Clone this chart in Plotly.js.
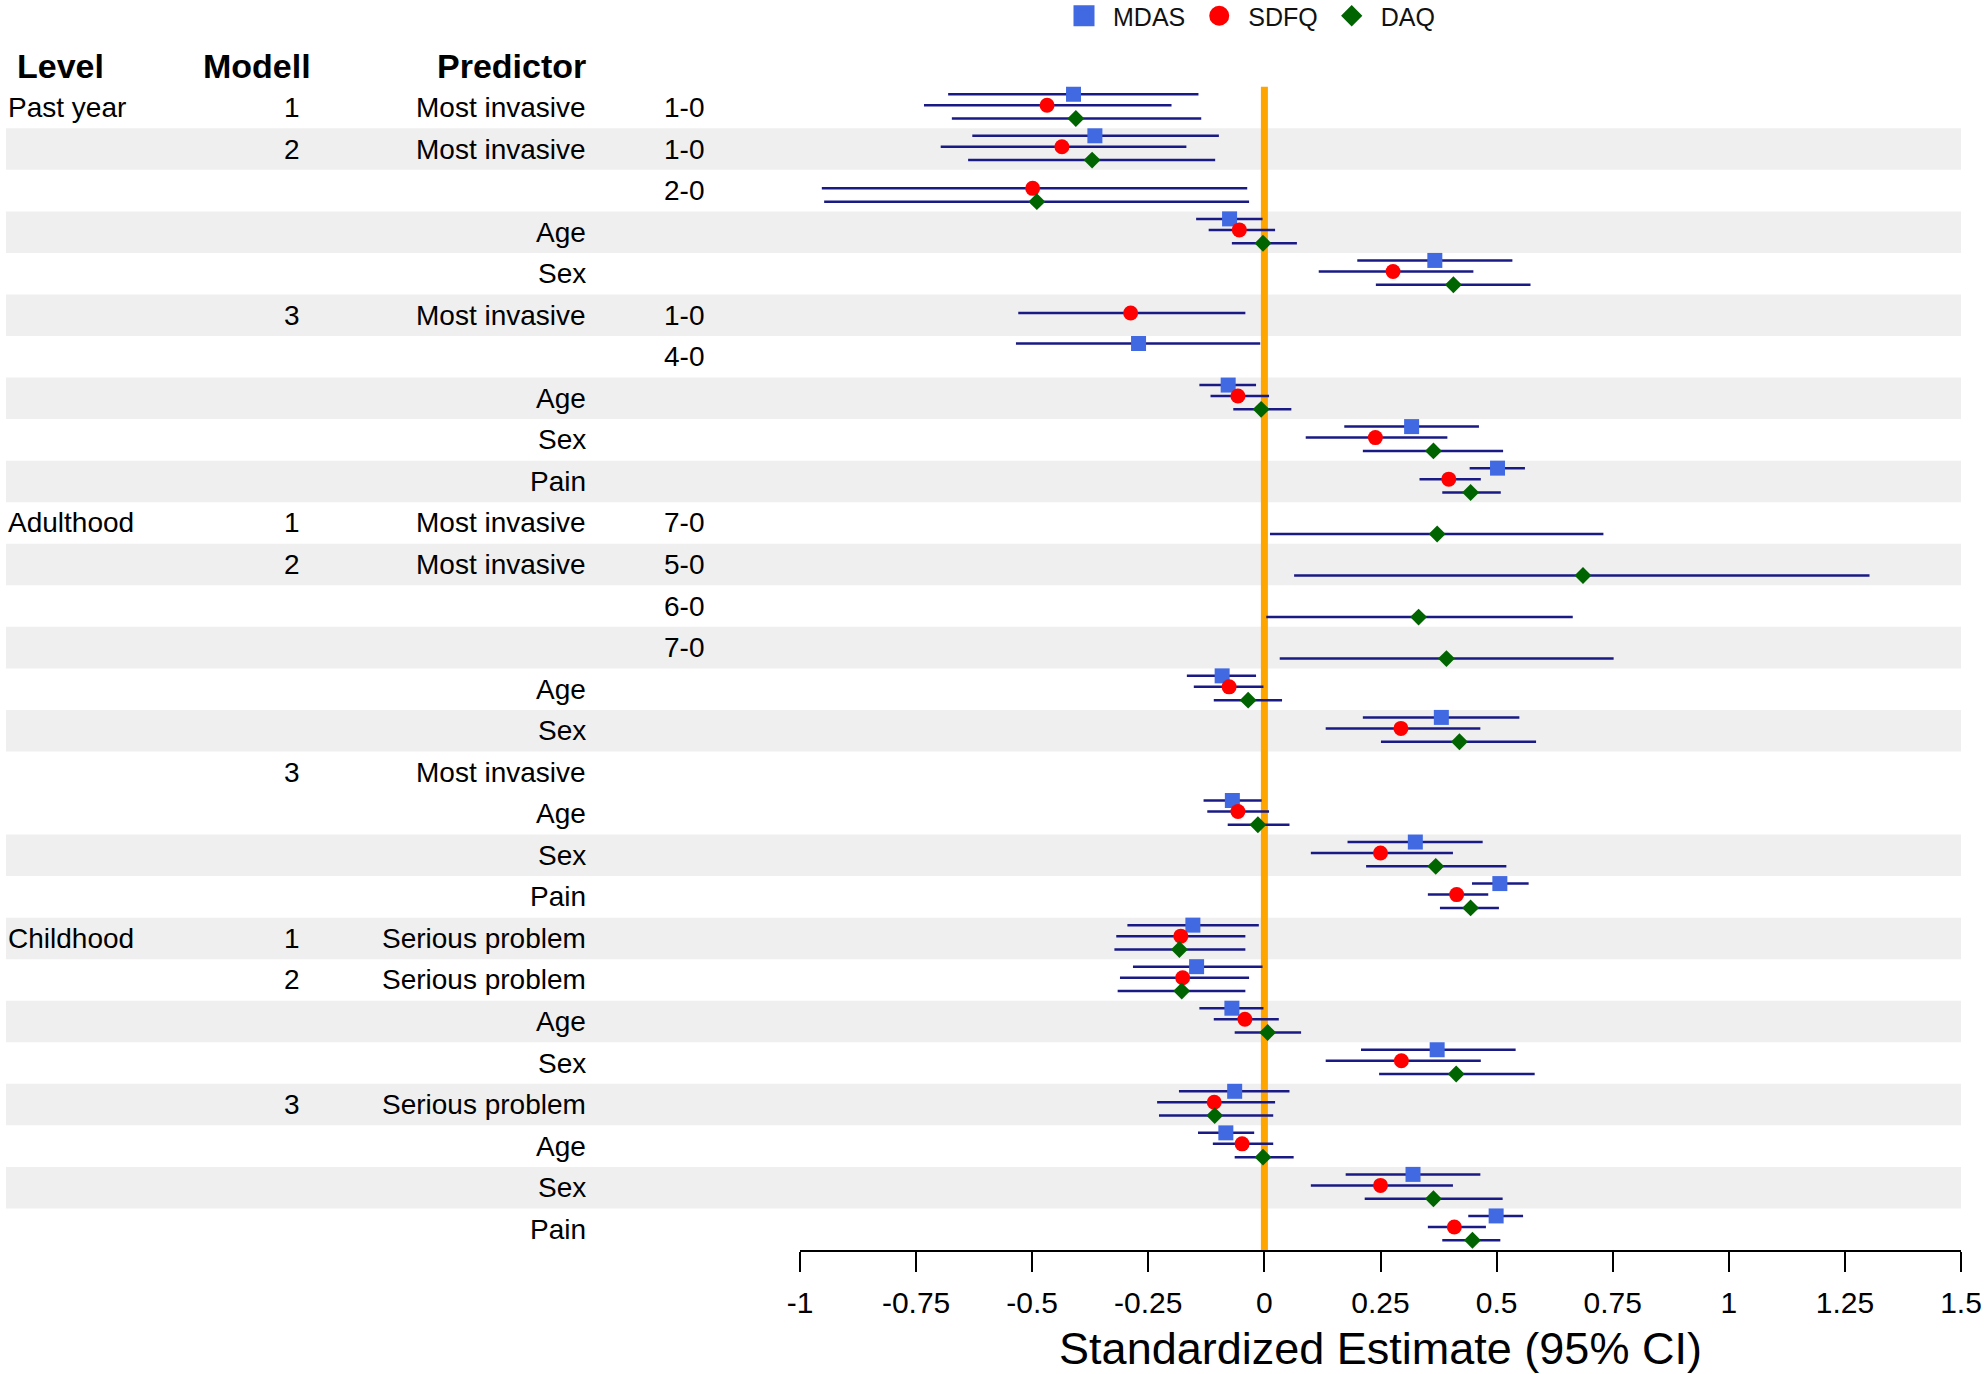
<!DOCTYPE html>
<html>
<head>
<meta charset="utf-8">
<script src="https://cdn.plot.ly/plotly-3.0.1.min.js"></script>
<style>
  html, body { margin: 0; padding: 0; background: #ffffff; }
  #chart { width: 1985px; height: 1374px; }
</style>
</head>
<body>
<div id="chart"></div>
<script>
// ---- Table columns, one entry per row, top to bottom ----
const levels = [
  "Past year", "", "", "", "", "", "", "", "", "",
  "Adulthood", "", "", "", "", "", "", "", "", "",
  "Childhood", "", "", "", "", "", "", ""
];
const models = [
  "1", "2", "", "", "", "3", "", "", "", "",
  "1", "2", "", "", "", "", "3", "", "", "",
  "1", "2", "", "", "3", "", "", ""
];
const predictors = [
  "Most invasive", "Most invasive", "", "Age", "Sex", "Most invasive", "", "Age", "Sex", "Pain",
  "Most invasive", "Most invasive", "", "", "Age", "Sex", "Most invasive", "Age", "Sex", "Pain",
  "Serious problem", "Serious problem", "Age", "Sex", "Serious problem", "Age", "Sex", "Pain"
];
const contrasts = [
  "1-0", "1-0", "2-0", "", "", "1-0", "4-0", "", "", "",
  "7-0", "5-0", "6-0", "7-0", "", "", "", "", "", "",
  "", "", "", "", "", "", "", ""
];
const headers = ["Level", "Modell", "Predictor"];

// Rows drawn on a light grey band
const shadedRows = [2, 4, 6, 8, 10, 12, 14, 16, 19, 21, 23, 25, 27];

// ---- Standardized estimates with 95% CI ----
const mdasEst = [-0.411, -0.365, null, -0.075, 0.367, null, -0.271, -0.078, 0.317, 0.502,
  null, null, null, null, -0.091, 0.381, null, -0.069, 0.325, 0.507,
  -0.154, -0.146, -0.070, 0.372, -0.064, -0.083, 0.320, 0.499];
const mdasLo = [-0.681, -0.629, null, -0.147, 0.200, null, -0.535, -0.140, 0.172, 0.442,
  null, null, null, null, -0.167, 0.212, null, -0.131, 0.179, 0.447,
  -0.295, -0.283, -0.140, 0.208, -0.184, -0.143, 0.175, 0.439];
const mdasHi = [-0.142, -0.098, null, -0.004, 0.534, null, -0.009, -0.018, 0.462, 0.561,
  null, null, null, null, -0.018, 0.549, null, -0.006, 0.470, 0.569,
  -0.012, -0.004, -0.002, 0.541, 0.054, -0.022, 0.465, 0.557];

const sdfqEst = [-0.468, -0.436, -0.499, -0.054, 0.277, -0.288, null, -0.057, 0.239, 0.397,
  null, null, null, null, -0.076, 0.294, null, -0.057, 0.250, 0.414,
  -0.180, -0.176, -0.042, 0.295, -0.108, -0.048, 0.250, 0.409];
const sdfqLo = [-0.733, -0.697, -0.953, -0.120, 0.117, -0.530, null, -0.116, 0.089, 0.334,
  null, null, null, null, -0.152, 0.132, null, -0.123, 0.100, 0.352,
  -0.319, -0.311, -0.109, 0.132, -0.231, -0.111, 0.100, 0.352];
const sdfqHi = [-0.200, -0.168, -0.037, 0.023, 0.450, -0.041, null, 0.010, 0.394, 0.466,
  null, null, null, null, -0.002, 0.465, null, 0.010, 0.406, 0.482,
  -0.041, -0.033, 0.031, 0.466, 0.023, 0.019, 0.406, 0.477];

const daqEst = [-0.406, -0.371, -0.490, -0.003, 0.407, null, null, -0.007, 0.364, 0.444,
  0.372, 0.686, 0.332, 0.392, -0.035, 0.420, null, -0.014, 0.369, 0.444,
  -0.183, -0.178, 0.007, 0.413, -0.107, -0.003, 0.364, 0.448];
const daqLo = [-0.673, -0.638, -0.948, -0.070, 0.240, null, null, -0.067, 0.212, 0.383,
  0.012, 0.064, 0.004, 0.033, -0.109, 0.251, null, -0.079, 0.219, 0.378,
  -0.323, -0.316, -0.064, 0.247, -0.227, -0.064, 0.216, 0.383];
const daqHi = [-0.136, -0.106, -0.033, 0.070, 0.573, null, null, 0.058, 0.514, 0.509,
  0.730, 1.303, 0.664, 0.752, 0.038, 0.585, null, 0.054, 0.521, 0.505,
  -0.041, -0.041, 0.079, 0.582, 0.019, 0.063, 0.513, 0.508];

// ---- X axis ticks ----
const tickVals = [-1, -0.75, -0.5, -0.25, 0, 0.25, 0.5, 0.75, 1, 1.25, 1.5];
const tickText = ["-1", "-0.75", "-0.5", "-0.25", "0", "0.25", "0.5", "0.75", "1", "1.25", "1.5"];

// ---- Layout geometry ----
const W = 1985, H = 1374;
const margin = { l: 800, r: 24, t: 66, b: 124, autoexpand: false };
const plotW = W - margin.l - margin.r;
const plotH = H - margin.t - margin.b;
const toPaperX = px => (px - margin.l) / plotW;
const toPaperY = py => (H - margin.b - py) / plotH;

const FONT = "Arial, 'Liberation Sans', sans-serif";
const ciColor = "#1a1a85";
const rows = predictors.map((_, i) => i + 1);

const styles = {
  MDAS: { symbol: "square", color: "#4169e1", size: 15, offset: -0.32 },
  SDFQ: { symbol: "circle", color: "#ff0000", size: 15, offset: -0.055 },
  DAQ:  { symbol: "diamond", color: "#006400", size: 13, offset: 0.265 }
};

function seriesTrace(name, est, lo, hi) {
  const s = styles[name];
  return {
    type: "scatter",
    mode: "markers",
    name: name,
    showlegend: false,
    x: est,
    y: rows.map(r => r + s.offset),
    marker: { symbol: s.symbol, size: s.size, color: s.color },
    cliponaxis: false,
    error_x: {
      type: "data",
      symmetric: false,
      array: est.map((v, i) => v == null ? null : hi[i] - v),
      arrayminus: est.map((v, i) => v == null ? null : v - lo[i]),
      color: ciColor,
      thickness: 2.5,
      width: 0
    },
    hoverinfo: "skip"
  };
}

// Legend entries (larger keys than the plotted points)
function legendEntry(name, size, lineWidth) {
  const s = styles[name];
  return {
    type: "scatter", mode: "markers", name: name,
    x: [null], y: [null],
    marker: { symbol: s.symbol, size: size, color: s.color, line: { color: s.color, width: lineWidth } },
    hoverinfo: "skip"
  };
}

const traces = [
  seriesTrace("MDAS", mdasEst, mdasLo, mdasHi),
  seriesTrace("SDFQ", sdfqEst, sdfqLo, sdfqHi),
  seriesTrace("DAQ", daqEst, daqLo, daqHi),
  legendEntry("MDAS", 16, 5),
  legendEntry("SDFQ", 16, 4),
  legendEntry("DAQ", 12, 4)
];

// Background bands and the reference line at zero
const shapes = shadedRows.map(r => ({
  type: "rect", layer: "below",
  xref: "paper", yref: "y",
  x0: toPaperX(6), x1: 1,
  y0: r - 0.5, y1: r + 0.5,
  fillcolor: "#efefef", line: { width: 0 }
}));
shapes.push({
  type: "line", layer: "below",
  xref: "x", yref: "y",
  x0: 0, x1: 0, y0: 0.5, y1: 28.5,
  line: { color: "#ffa500", width: 7 }
});

// Table text
const annotations = [];
const cellFont = { family: FONT, size: 28, color: "#000000" };
const headFont = { family: FONT, size: 34, color: "#000000" };

function addColumn(texts, px, anchor) {
  texts.forEach((t, i) => {
    if (!t) return;
    annotations.push({
      xref: "paper", yref: "y", x: toPaperX(px), y: rows[i],
      text: t, showarrow: false, xanchor: anchor, yanchor: "middle",
      font: cellFont
    });
  });
}
addColumn(levels, 6, "left");
addColumn(models, 292, "center");
addColumn(predictors, 588, "right");
addColumn(contrasts, 684, "center");

const headPos = [[15, "left"], [257, "center"], [588, "right"]];
headers.forEach((h, i) => {
  annotations.push({
    xref: "paper", yref: "y", x: toPaperX(headPos[i][0]), y: 0,
    text: "<b>" + h + "</b>", showarrow: false, xanchor: headPos[i][1], yanchor: "middle",
    font: headFont
  });
});

const layout = {
  width: W, height: H,
  margin: margin,
  paper_bgcolor: "#ffffff",
  plot_bgcolor: "rgba(0,0,0,0)",
  font: { family: FONT, color: "#000000" },
  showlegend: true,
  legend: {
    orientation: "h",
    x: toPaperX(1055), xanchor: "left",
    y: toPaperY(16), yanchor: "middle",
    font: { family: FONT, size: 25, color: "#111111" },
    bgcolor: "rgba(0,0,0,0)",
    itemwidth: 48,
    itemsizing: "trace"
  },
  xaxis: {
    range: [-1, 1.5],
    tickmode: "array",
    tickvals: tickVals,
    ticktext: tickText,
    ticks: "outside",
    ticklen: 20,
    tickwidth: 2,
    tickcolor: "#000000",
    ticklabelstandoff: 5,
    showline: true,
    linecolor: "#000000",
    linewidth: 2,
    showgrid: false,
    zeroline: false,
    tickfont: { family: FONT, size: 30, color: "#000000" },
    title: { text: "Standardized Estimate (95% CI)", font: { family: FONT, size: 45, color: "#000000" }, standoff: 14 }
  },
  yaxis: {
    range: [28.5, 0],
    visible: false,
    showgrid: false,
    zeroline: false
  },
  shapes: shapes,
  annotations: annotations
};

Plotly.newPlot("chart", traces, layout, { staticPlot: true, displayModeBar: false });
</script>
</body>
</html>
